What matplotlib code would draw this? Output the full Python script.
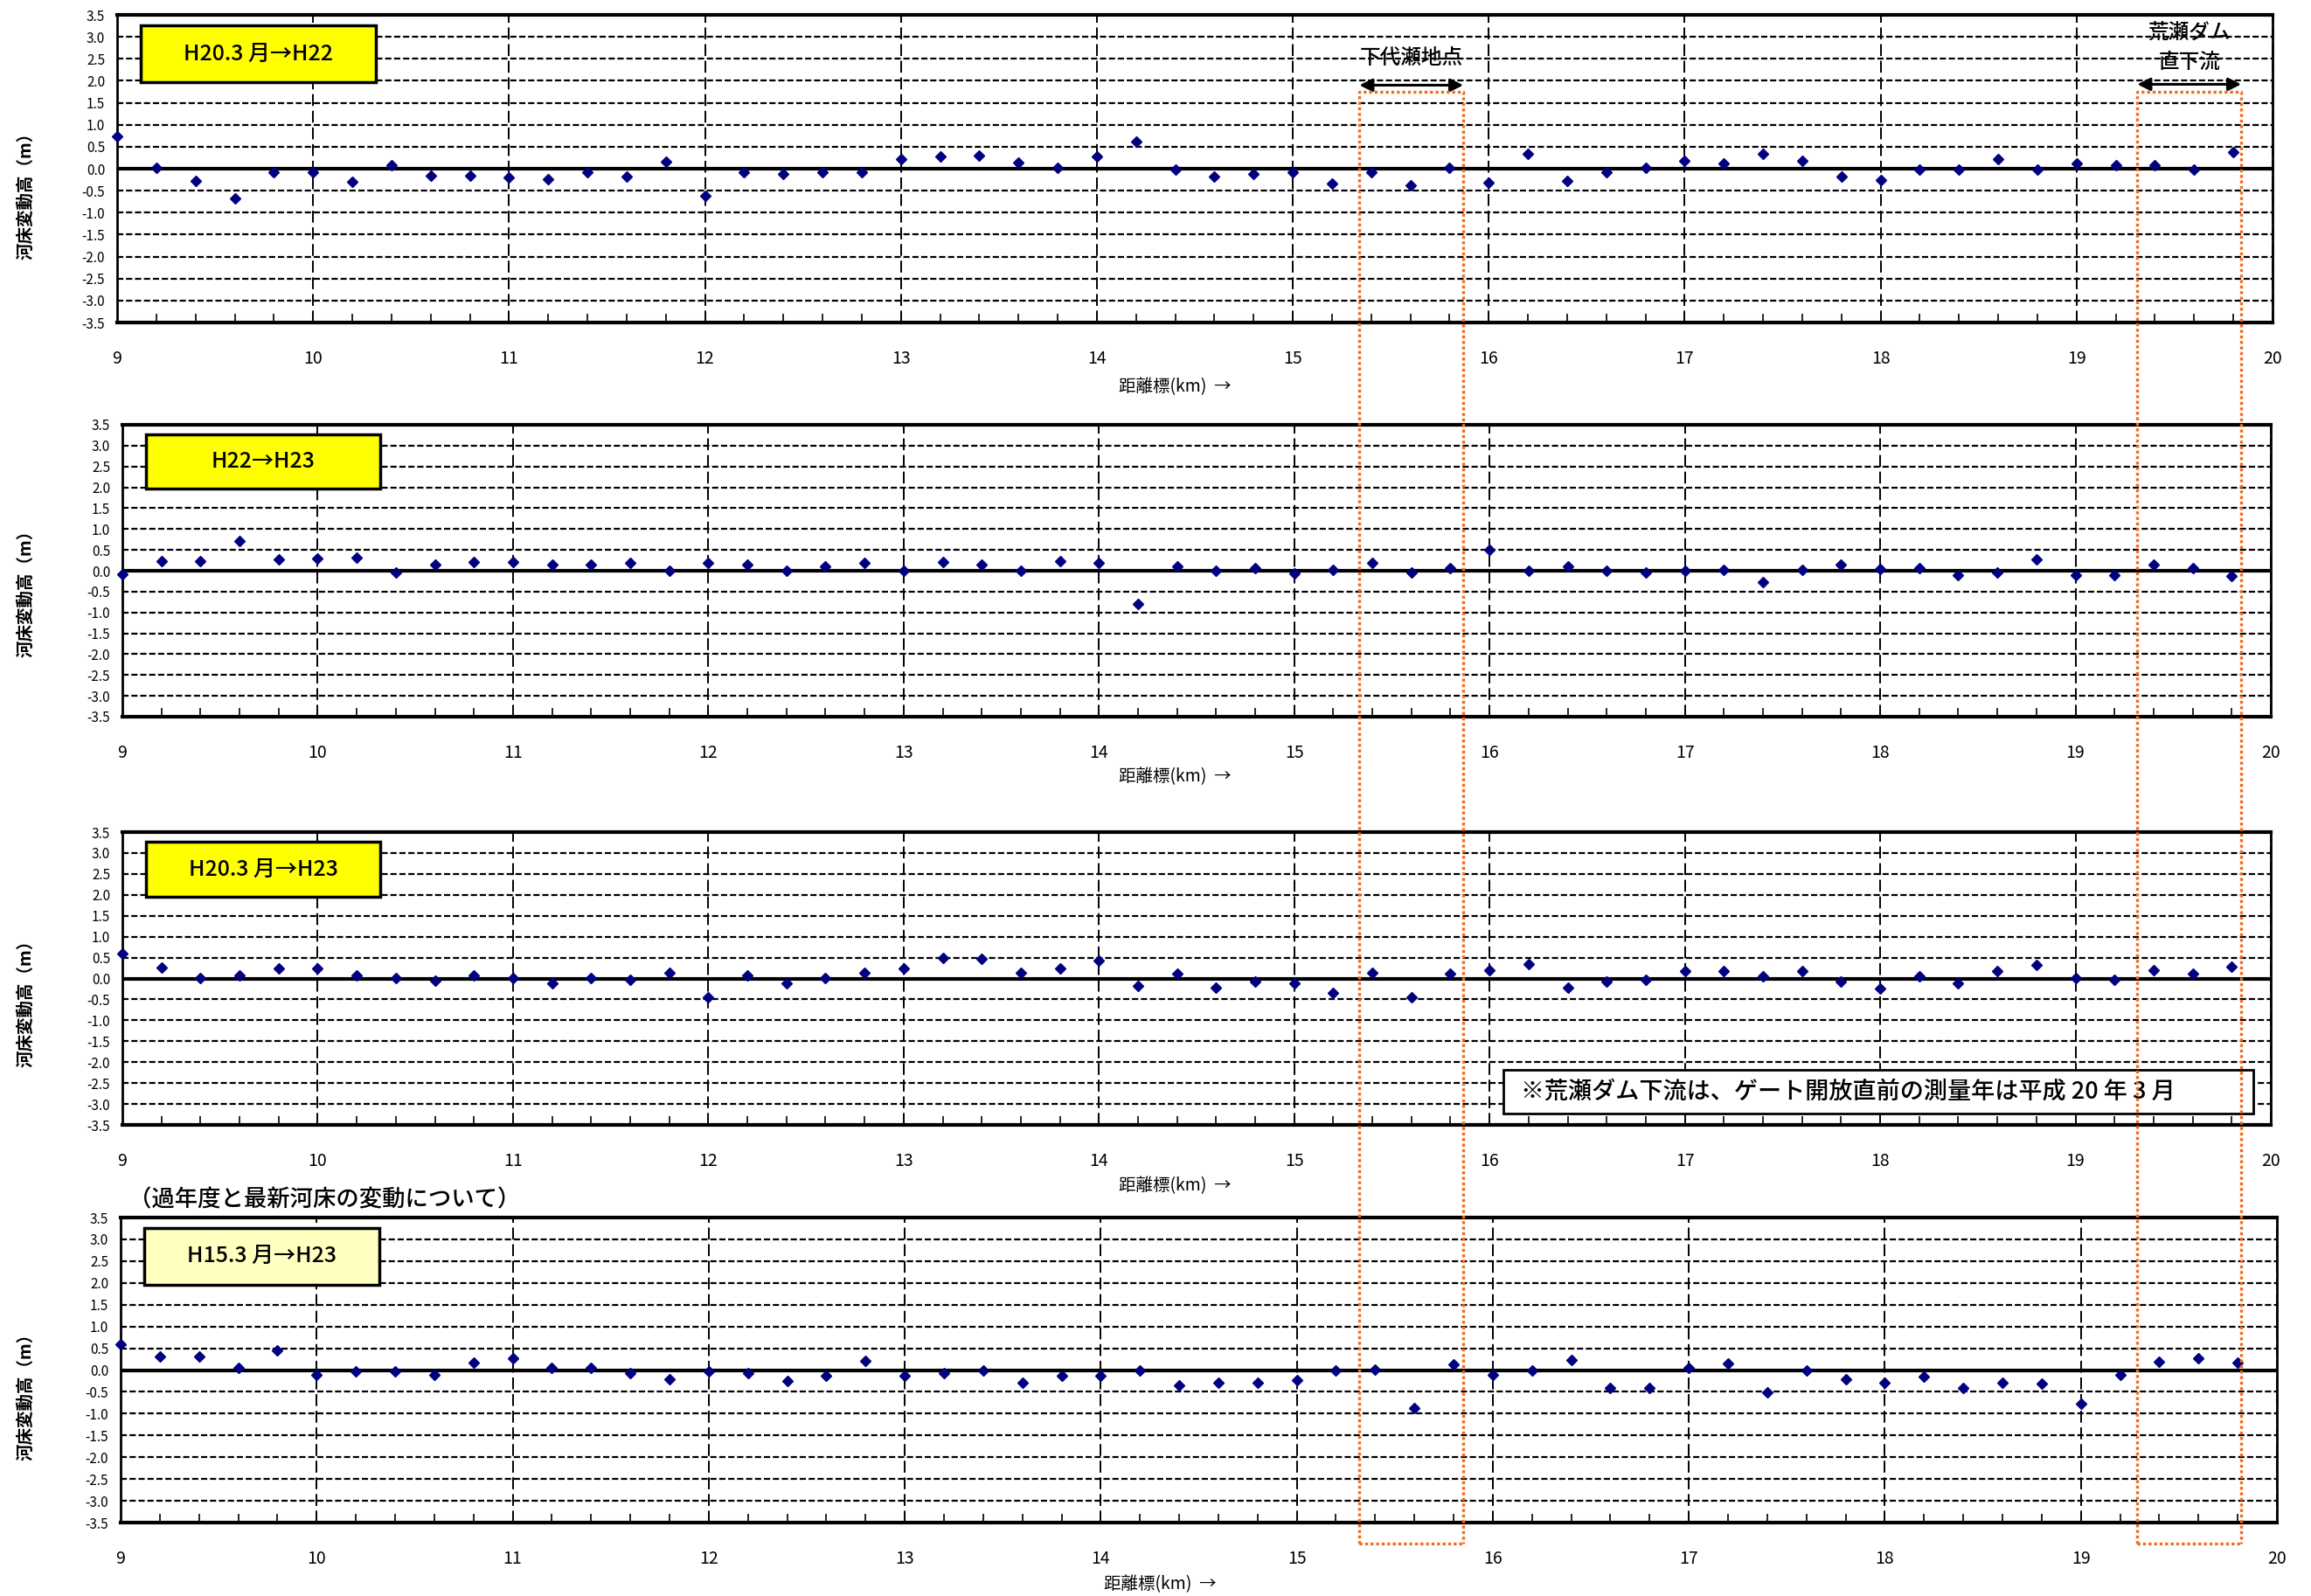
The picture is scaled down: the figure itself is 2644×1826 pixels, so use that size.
import matplotlib
matplotlib.use('Agg')
import matplotlib.pyplot as plt
from matplotlib.lines import Line2D
from matplotlib.patches import Rectangle
from matplotlib.ticker import MultipleLocator
import numpy as np

plt.rcParams['font.family'] = ['Noto Sans CJK JP', 'DejaVu Sans']

W, H = 2644, 1826

# 距離標 (km)
km = [9.0, 9.2, 9.4, 9.6, 9.8, 10.0, 10.2, 10.4, 10.6, 10.8,
      11.0, 11.2, 11.4, 11.6, 11.8, 12.0, 12.2, 12.4, 12.6, 12.8,
      13.0, 13.2, 13.4, 13.6, 13.8, 14.0, 14.2, 14.4, 14.6, 14.8,
      15.0, 15.2, 15.4, 15.6, 15.8, 16.0, 16.2, 16.4, 16.6, 16.8,
      17.0, 17.2, 17.4, 17.6, 17.8, 18.0, 18.2, 18.4, 18.6, 18.8,
      19.0, 19.2, 19.4, 19.6, 19.8]

# 河床変動高 (m)
h20_h22 = [0.73, 0.01, -0.27, -0.68, -0.07, -0.08, -0.29, 0.07, -0.16, -0.15,
           -0.19, -0.23, -0.08, -0.18, 0.15, -0.61, -0.08, -0.11, -0.08, -0.07,
           0.21, 0.28, 0.30, 0.13, 0.01, 0.28, 0.62, -0.02, -0.18, -0.11,
           -0.07, -0.34, -0.07, -0.38, 0.02, -0.32, 0.34, -0.28, -0.07, 0.02,
           0.17, 0.12, 0.34, 0.18, -0.17, -0.25, -0.01, -0.01, 0.21, -0.01,
           0.12, 0.07, 0.07, -0.01, 0.38]
h22_h23 = [-0.09, 0.24, 0.24, 0.72, 0.28, 0.30, 0.32, -0.05, 0.14, 0.20,
           0.21, 0.15, 0.15, 0.19, 0.00, 0.18, 0.15, 0.00, 0.11, 0.19,
           0.01, 0.21, 0.15, 0.00, 0.24, 0.18, -0.79, 0.11, 0.00, 0.07,
           -0.06, 0.03, 0.19, -0.05, 0.07, 0.50, 0.00, 0.11, 0.00, -0.05,
           0.00, 0.03, -0.28, 0.03, 0.15, 0.04, 0.07, -0.10, -0.05, 0.28,
           -0.10, -0.10, 0.15, 0.07, -0.12]
h20_h23 = [0.60, 0.27, 0.01, 0.07, 0.23, 0.23, 0.07, 0.01, -0.05, 0.07,
           0.01, -0.11, 0.01, -0.04, 0.14, -0.45, 0.07, -0.12, 0.01, 0.14,
           0.23, 0.49, 0.46, 0.14, 0.23, 0.42, -0.17, 0.12, -0.21, -0.07,
           -0.12, -0.35, 0.14, -0.45, 0.12, 0.20, 0.35, -0.21, -0.07, -0.03,
           0.18, 0.18, 0.06, 0.17, -0.08, -0.23, 0.06, -0.12, 0.18, 0.32,
           0.02, -0.04, 0.20, 0.11, 0.28]
h15_h23 = [0.59, 0.31, 0.31, 0.06, 0.46, -0.12, -0.03, -0.04, -0.12, 0.17,
           0.27, 0.06, 0.06, -0.08, -0.22, -0.04, -0.08, -0.25, -0.14, 0.21,
           -0.14, -0.08, -0.02, -0.30, -0.14, -0.13, -0.02, -0.36, -0.29, -0.29,
           -0.24, -0.02, 0.02, -0.88, 0.14, -0.12, -0.02, 0.24, -0.42, -0.42,
           0.06, 0.16, -0.52, -0.02, -0.22, -0.29, -0.15, -0.42, -0.29, -0.32,
           -0.78, -0.12, 0.20, 0.27, 0.17]

panel_tags = ['H20.3 月→H22', 'H22→H23', 'H20.3 月→H23', 'H15.3 月→H23']

# 注目区間 (km)
shimodaise_span = (15.34, 15.87)
dam_span = (19.31, 19.84)

fig = plt.figure(figsize=(W / 100, H / 100), dpi=100)


def px_box(left, top, right, bottom):
    return [left / W, 1 - bottom / H, (right - left) / W, (bottom - top) / H]


def draw_panel(rect, values, tag, tag_color, xlabel_xy, ylabel_xy):
    ax = fig.add_axes(px_box(*rect))
    ax.set_xlim(9, 20)
    ax.set_ylim(-3.5, 3.5)
    ax.set_xticks(range(9, 21))
    ax.xaxis.set_minor_locator(MultipleLocator(0.2))
    ax.set_yticks(np.arange(-3.5, 3.51, 0.5))
    ax.yaxis.set_major_formatter(matplotlib.ticker.FormatStrFormatter('%.1f'))

    ax.yaxis.grid(True, color='black', lw=1.6, linestyle=(0, (3.2, 1.4)))
    ax.xaxis.grid(True, which='major', color='black', lw=1.4,
                  linestyle=(0, (7, 2.8)))
    ax.set_axisbelow(True)

    ax.tick_params(axis='x', which='major', direction='in', length=0,
                   pad=22, labelsize=14)
    ax.tick_params(axis='x', which='minor', direction='in', length=7,
                   width=1.2)
    ax.tick_params(axis='y', direction='in', length=5, width=1.2,
                   pad=10, labelsize=11)

    for side in ['top', 'bottom']:
        ax.spines[side].set_linewidth(3)
    for side in ['left', 'right']:
        ax.spines[side].set_linewidth(2)

    ax.axhline(0, color='black', lw=3, zorder=2)
    ax.plot(km, values, 'D', color='#000080', ms=6.5, zorder=3, clip_on=False)

    ax.add_patch(Rectangle((0.011, 0.78), 0.109, 0.187, transform=ax.transAxes,
                           facecolor=tag_color, edgecolor='black', lw=2.5,
                           zorder=4))
    ax.text(0.0655, 0.8735, tag, transform=ax.transAxes, ha='center',
            va='center', fontsize=18, fontweight='medium', zorder=5)

    fig.text(xlabel_xy[0] / W, 1 - xlabel_xy[1] / H, '距離標(km)  →',
             ha='center', va='center', fontsize=14)
    fig.text(ylabel_xy[0] / W, 1 - ylabel_xy[1] / H, '河床変動高（m）',
             rotation=90, ha='center', va='center', fontsize=14,
             fontweight='bold')
    return ax


ax1 = draw_panel((134, 17, 2600, 369), h20_h22, panel_tags[0], '#FFFF00',
                 (1344, 443), (30, 219))
ax2 = draw_panel((140, 486, 2598, 820), h22_h23, panel_tags[1], '#FFFF00',
                 (1344, 889), (30, 674))
ax3 = draw_panel((140, 952, 2598, 1287), h20_h23, panel_tags[2], '#FFFF00',
                 (1344, 1357), (30, 1143))
ax4 = draw_panel((138, 1393, 2605, 1742), h15_h23, panel_tags[3], '#FFFFC0',
                 (1327, 1813), (30, 1593))

# 注記
ax3.add_patch(Rectangle((0.643, 0.039), 0.349, 0.149, transform=ax3.transAxes,
                        facecolor='white', edgecolor='black', lw=2, zorder=4))
ax3.text(0.651, 0.1135, '※荒瀬ダム下流は、ゲート開放直前の測量年は平成 20 年 3 月',
         transform=ax3.transAxes, ha='left', va='center', fontsize=19.5,
         fontweight='medium', zorder=5)

fig.text(147 / W, 1 - 1373 / H, '（過年度と最新河床の変動について）',
         ha='left', va='center', fontsize=19, fontweight='medium')

# 区間の矢印とラベル
for span, y in [(shimodaise_span, 1.9), (dam_span, 1.92)]:
    ax1.annotate('', xy=(span[0], y), xytext=(span[1], y),
                 arrowprops=dict(arrowstyle='<|-|>', color='black', lw=2.2,
                                 mutation_scale=22, shrinkA=0, shrinkB=0),
                 annotation_clip=False, zorder=6)
ax1.text(sum(shimodaise_span) / 2, 2.51, '下代瀬地点', ha='center', va='center',
         fontsize=17, fontweight='medium', zorder=6)
ax1.text(sum(dam_span) / 2, 3.1, '荒瀬ダム', ha='center', va='center',
         fontsize=17, fontweight='medium', zorder=6)
ax1.text(sum(dam_span) / 2, 2.42, '直下流', ha='center', va='center',
         fontsize=17, fontweight='medium', zorder=6)

# 区間の点線枠 (全パネルにまたがる)
to_fig = fig.transFigure.inverted()
y_top = 1 - 105 / H
y_bot = 1 - 1766 / H
for span in [shimodaise_span, dam_span]:
    x0 = to_fig.transform(ax1.transData.transform((span[0], 0)))[0]
    x1 = to_fig.transform(ax1.transData.transform((span[1], 0)))[0]
    fig.add_artist(Line2D([x0, x0, x1, x1], [y_bot, y_top, y_top, y_bot],
                          transform=fig.transFigure, color='#F26B1D', lw=2.4,
                          linestyle=(0, (1, 0.9)), zorder=10))
    fig.add_artist(Line2D([x0, x1], [y_bot, y_bot],
                          transform=fig.transFigure, color='#F26B1D', lw=2.4,
                          linestyle=(0, (1, 0.9)), zorder=10))

fig.savefig('out.png', dpi=100, facecolor='white')
